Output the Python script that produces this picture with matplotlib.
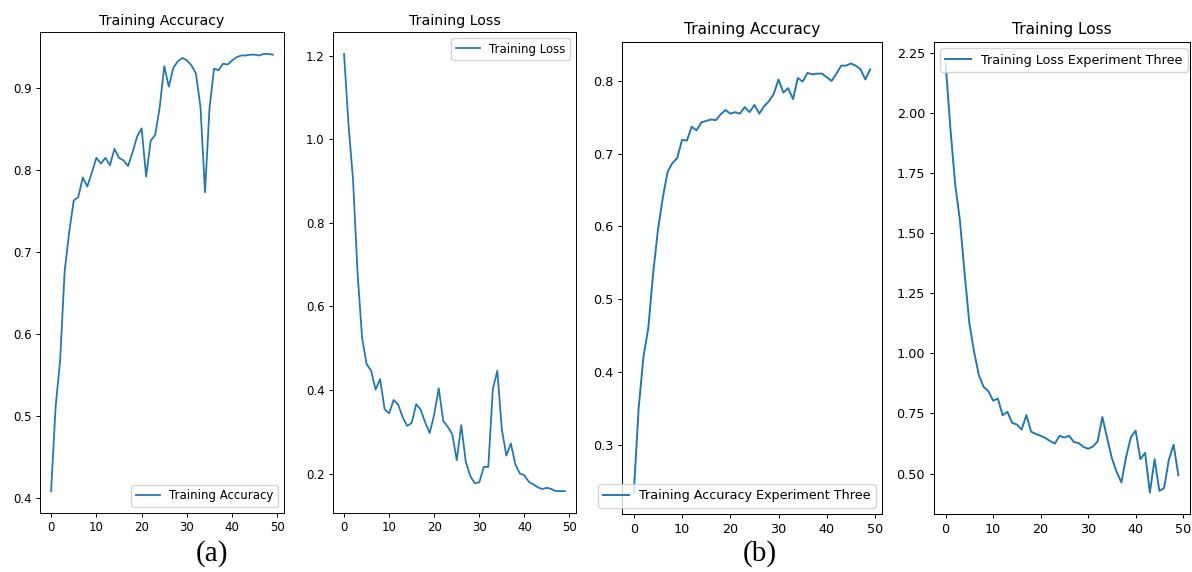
import matplotlib
matplotlib.use("Agg")
import matplotlib.pyplot as plt

epochs = list(range(50))

acc_a = [0.408, 0.511, 0.568, 0.677, 0.724, 0.763, 0.767, 0.791, 0.780, 0.797,
         0.815, 0.808, 0.815, 0.806, 0.826, 0.815, 0.812, 0.805, 0.822, 0.841,
         0.851, 0.792, 0.836, 0.843, 0.877, 0.927, 0.902, 0.925, 0.933, 0.937,
         0.934, 0.928, 0.918, 0.877, 0.773, 0.876, 0.924, 0.922, 0.930, 0.929,
         0.934, 0.938, 0.940, 0.940, 0.941, 0.941, 0.940, 0.942, 0.942, 0.941]

loss_a = [1.204, 1.033, 0.902, 0.680, 0.525, 0.462, 0.446, 0.401, 0.426, 0.354,
          0.344, 0.376, 0.365, 0.335, 0.314, 0.321, 0.366, 0.353, 0.322, 0.297,
          0.341, 0.404, 0.326, 0.312, 0.294, 0.232, 0.316, 0.228, 0.194, 0.177,
          0.179, 0.216, 0.216, 0.402, 0.446, 0.306, 0.243, 0.272, 0.222, 0.200,
          0.196, 0.180, 0.174, 0.167, 0.163, 0.166, 0.163, 0.158, 0.158, 0.158]

acc_b = [0.234, 0.350, 0.421, 0.460, 0.535, 0.595, 0.639, 0.675, 0.687, 0.694,
         0.719, 0.718, 0.737, 0.732, 0.743, 0.745, 0.747, 0.746, 0.754, 0.760,
         0.755, 0.757, 0.755, 0.764, 0.757, 0.767, 0.755, 0.765, 0.772, 0.782,
         0.802, 0.784, 0.790, 0.775, 0.804, 0.799, 0.811, 0.809, 0.810, 0.810,
         0.805, 0.800, 0.810, 0.821, 0.821, 0.824, 0.821, 0.816, 0.802, 0.816]

loss_b = [2.206, 1.936, 1.706, 1.554, 1.332, 1.124, 1.006, 0.909, 0.860, 0.843,
          0.803, 0.812, 0.742, 0.757, 0.711, 0.704, 0.683, 0.743, 0.674, 0.665,
          0.657, 0.648, 0.635, 0.625, 0.657, 0.650, 0.657, 0.631, 0.627, 0.611,
          0.603, 0.612, 0.634, 0.735, 0.648, 0.564, 0.507, 0.463, 0.569, 0.651,
          0.679, 0.560, 0.586, 0.421, 0.560, 0.428, 0.440, 0.558, 0.620, 0.493]

W, H = 1192, 572


def add_axes_px(fig, left, top, right, bottom):
    return fig.add_axes([left / W, (H - bottom) / H, (right - left) / W, (bottom - top) / H])


def draw(ax, y, title, label, loc, s):
    # s = shrink factor of the original screenshot
    ax.plot(epochs, y, color="#1f77b4", linewidth=1.5 * s, label=label)
    ax.set_title(title, fontsize=12 * s, pad=6 * s)
    ax.tick_params(labelsize=10 * s, length=3.5 * s, width=0.8 * s, pad=3.5 * s)
    for sp in ax.spines.values():
        sp.set_linewidth(0.8 * s)
    ax.legend(loc=loc, fontsize=10 * s, borderaxespad=0.5, handlelength=2.0)


fig = plt.figure(figsize=(W / 100, H / 100), dpi=100)

ax1 = add_axes_px(fig, 40, 32, 284, 513)
draw(ax1, acc_a, "Training Accuracy", "Training Accuracy", "lower right", 0.85)

ax2 = add_axes_px(fig, 333, 32, 576, 513)
draw(ax2, loss_a, "Training Loss", "Training Loss", "upper right", 0.85)

ax3 = add_axes_px(fig, 622, 42, 882, 514)
draw(ax3, acc_b, "Training Accuracy", "Training Accuracy Experiment Three", "lower right", 0.92)

ax4 = add_axes_px(fig, 934, 42, 1190, 514)
draw(ax4, loss_b, "Training Loss", "Training Loss Experiment Three", "upper left", 0.92)

fig.text(212 / W, (H - 540) / H, "(a)", family="Liberation Serif", fontsize=21, ha="center", va="top")
fig.text(760 / W, (H - 540) / H, "(b)", family="Liberation Serif", fontsize=21, ha="center", va="top")

fig.savefig("out.png", dpi=100)
